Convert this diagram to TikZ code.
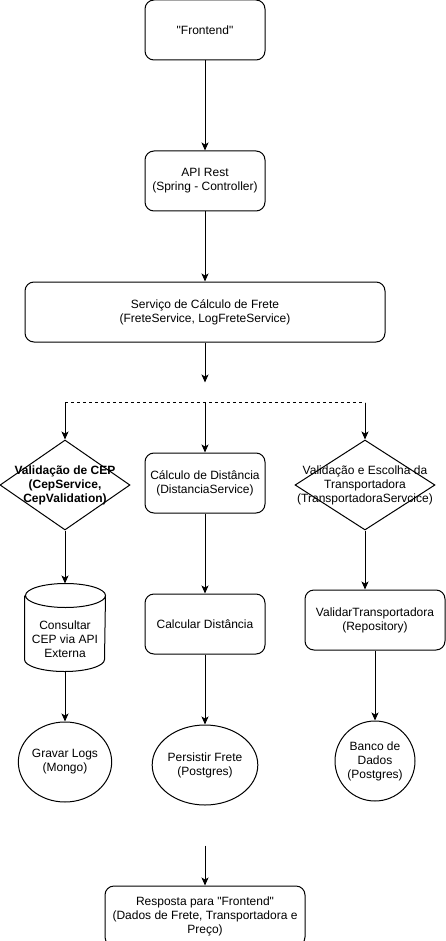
\documentclass[tikz,border=0pt]{standalone}
\usepackage{fontspec}
\setmainfont{Liberation Sans}
\usepackage{tikz}
\usetikzlibrary{shapes,arrows.meta,positioning}

\begin{document}
\begin{tikzpicture}[
    x=1pt, y=1pt,
    font=\fontsize{12}{14}\selectfont,
    line width=1pt,
    box/.style={rectangle, draw, rounded corners=9pt, minimum width=120pt, minimum height=60pt, align=center, inner sep=0pt},
    decision/.style={diamond, draw, minimum width=130pt, minimum height=90pt, inner sep=0pt},
    store/.style={rectangle, minimum width=80pt, minimum height=87pt, inner sep=0pt},
    db/.style={ellipse, draw, minimum width=80pt, minimum height=80pt, align=center, inner sep=0pt},
    arrow/.style={-{Stealth[length=8pt,width=7pt,inset=2pt]}},
]
\useasboundingbox (0,0) rectangle (446,-941);

% Entry
\node[box] (frontend) at (205,-30) {\textquotedbl Frontend\textquotedbl};
\node[box, below=90pt of frontend] (api) {API Rest\\(Spring - Controller)};
\node[box, minimum width=360pt, below=70pt of api] (frete) {Serviço de Cálculo de Frete\\(FreteService, LogFreteService)};

% Split
\coordinate[below=40pt of frete] (split);
\coordinate[below=20pt of split] (fork);

% Branches
\node[decision] (cep) at (65,-485) {};
\node[font=\bfseries\fontsize{12}{14}\selectfont, align=center] (cepText) at (cep) {Validação de CEP\\(CepService,\\CepValidation)};
\node[box, below=50pt of fork] (dist) {Cálculo de Distância\\(DistanciaService)};
\node[decision, minimum width=140pt] (transp) at (365,-485) {};
\node[align=center] (transpText) at (transp) {Validação e Escolha da\\Transportadora\\(TransportadoraServcice)};

% Cylinder (drawn by hand round its node)
\node[store, below=53pt of cep] (consulta) {};
\draw ([yshift=-12pt]consulta.north west) -- ([yshift=12pt]consulta.south west)
    arc[start angle=180, end angle=360, x radius=40pt, y radius=12pt]
    -- ([yshift=-12pt]consulta.north east)
    arc[start angle=0, end angle=360, x radius=40pt, y radius=12pt];
\node[align=center] (consultaText) at ([yshift=-12pt]consulta.center) {Consultar\\CEP via API\\Externa};
\node[box, below=80pt of dist] (calc) {Calcular Distância};
\node[box, minimum width=140pt] (valida) at (375,-620) {ValidarTransportadora\\(Repository)};

% Storage
\node[db, below=50pt of consulta] (logs) {Gravar Logs\\(Mongo)};
\node[db, minimum width=90pt, below=70pt of calc] (persiste) {Persistir Frete\\(Postgres)};
\node[db, below=70pt of valida] (banco) {Banco de\\Dados\\(Postgres)};

% Response
\coordinate[below=40pt of persiste] (retorno);
\node[box, minimum width=200pt, below=40pt of retorno] (resposta) {Resposta para \textquotedbl Frontend\textquotedbl\\(Dados de Frete, Transportadora e\\Preço)};

% Arrows
\draw[arrow] (frontend) -- (api);
\draw[arrow] (api) -- (frete);
\draw[arrow] (frete) -- (split);
\draw[dash pattern=on 3pt off 3pt] (fork -| cep) -- (fork -| transp);
\draw[arrow] (fork -| cep) -- (cep.north);
\draw[arrow] (fork) -- (dist);
\draw[arrow] (fork -| transp) -- (transp.north);
\draw[arrow] (cep) -- (consulta);
\draw[arrow] (dist) -- (calc);
\draw[arrow] (transp.south) -- (transp.south |- valida.north);
\draw[arrow] (consulta) -- (logs);
\draw[arrow] (calc) -- (persiste);
\draw[arrow] (valida) -- (banco);
\draw[arrow] (retorno) -- (resposta);

\end{tikzpicture}
\end{document}
